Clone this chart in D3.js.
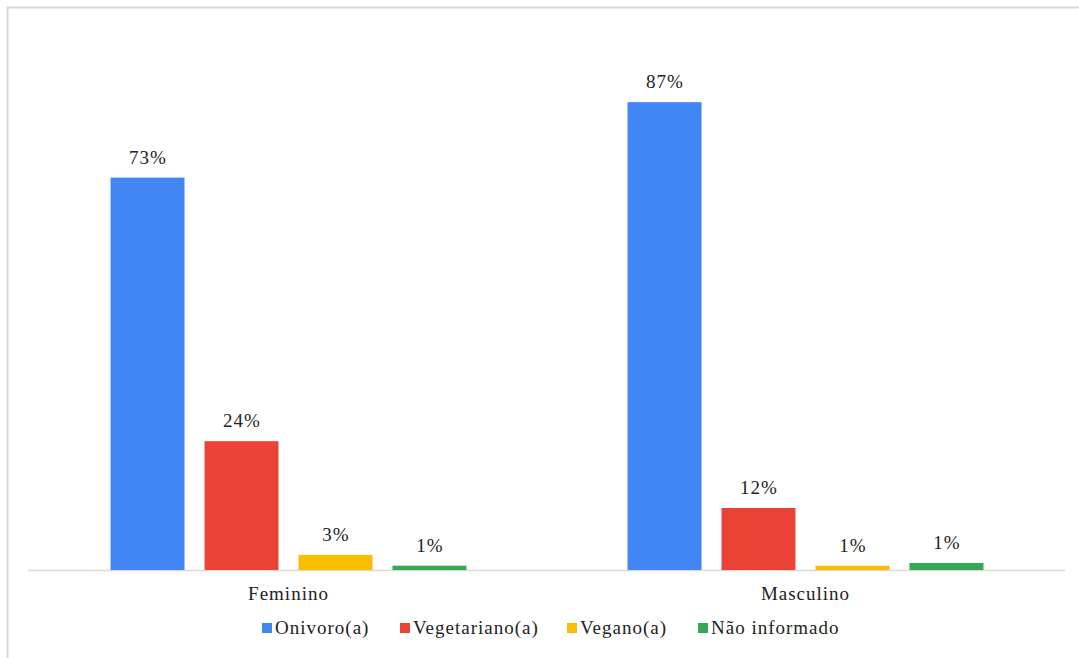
<!DOCTYPE html>
<html>
<head>
<meta charset="utf-8">
<script src="https://cdn.jsdelivr.net/npm/d3@7"></script>
<style>
  body { margin: 0; background: #fff; }
</style>
</head>
<body>
<script>
const width = 1079
const height = 658
const fontFam = "Liberation Serif"

// data
const groups = ["Feminino", "Masculino"]
const series = ["Onivoro(a)", "Vegetariano(a)", "Vegano(a)", "Não informado"]
const feminino = [72.8, 23.9, 2.8, 0.8]
const masculino = [86.8, 11.5, 0.8, 1.3]
const colors = ["#4285f4", "#ea4335", "#fbbc04", "#34a853"]

const values = [feminino, masculino]

const svg = d3.select("body")
    .append("svg")
    .attr("width", width)
    .attr("height", height)
    .attr("font-family", fontFam)

// light frame (left + top only, as in the screenshot)
svg.append("path")
    .attr("d", `M7.5,${height} V7.5 H${width}`)
    .attr("fill", "none")
    .attr("stroke", "#d9d9d9")
    .attr("stroke-width", 2)

const x0 = d3.scaleBand()
    .domain(groups)
    .range([30, 1064])

const x1 = d3.scaleBand()
    .domain(series)
    .range([0, x0.bandwidth()])
    .paddingInner(0.213)
    .paddingOuter(0.857)

const y = d3.scaleLinear()
    .domain([0, 100])
    .range([570, 31])

// baseline
svg.append("line")
    .attr("x1", 28)
    .attr("x2", 1065)
    .attr("y1", y(0) + 0.5)
    .attr("y2", y(0) + 0.5)
    .attr("stroke", "#d9d9d9")
    .attr("stroke-width", 1.5)

const g = svg.append("g")
    .selectAll("g")
    .data(groups)
    .enter()
    .append("g")
    .attr("transform", d => `translate(${x0(d)},0)`)

g.selectAll("rect")
    .data((d, i) => values[i].map((v, j) => ({ s: series[j], v: v, c: colors[j] })))
    .enter()
    .append("rect")
    .attr("x", d => x1(d.s))
    .attr("width", x1.bandwidth())
    .attr("y", d => y(d.v))
    .attr("height", d => y(0) - y(d.v))
    .attr("fill", d => d.c)

g.selectAll("text.lbl")
    .data((d, i) => values[i].map((v, j) => ({ s: series[j], v: v })))
    .enter()
    .append("text")
    .attr("class", "lbl")
    .attr("x", d => x1(d.s) + x1.bandwidth() / 2 + 0.5)
    .attr("y", d => y(d.v) - 14)
    .attr("text-anchor", "middle")
    .attr("fill", "#222")
    .attr("font-size", 19)
    .attr("letter-spacing", 1)
    .text(d => Math.round(d.v) + "%")

// category axis labels
svg.append("g")
    .selectAll("text")
    .data(groups)
    .enter()
    .append("text")
    .attr("x", d => x0(d) + x0.bandwidth() / 2)
    .attr("y", 600)
    .attr("text-anchor", "middle")
    .attr("fill", "#222")
    .attr("font-size", 19)
    .attr("letter-spacing", 1)
    .text(d => d)

// legend
const legendX = [262, 400, 567, 698]
const legend = svg.append("g")
    .selectAll("g")
    .data(series)
    .enter()
    .append("g")
    .attr("transform", (d, i) => `translate(${legendX[i]},628)`)

legend.append("rect")
    .attr("x", 0)
    .attr("y", -5)
    .attr("width", 10)
    .attr("height", 10)
    .attr("fill", (d, i) => colors[i])

legend.append("text")
    .attr("x", 13)
    .attr("y", 6)
    .attr("fill", "#222")
    .attr("font-size", 19)
    .attr("letter-spacing", 1)
    .text(d => d)
</script>
</body>
</html>
